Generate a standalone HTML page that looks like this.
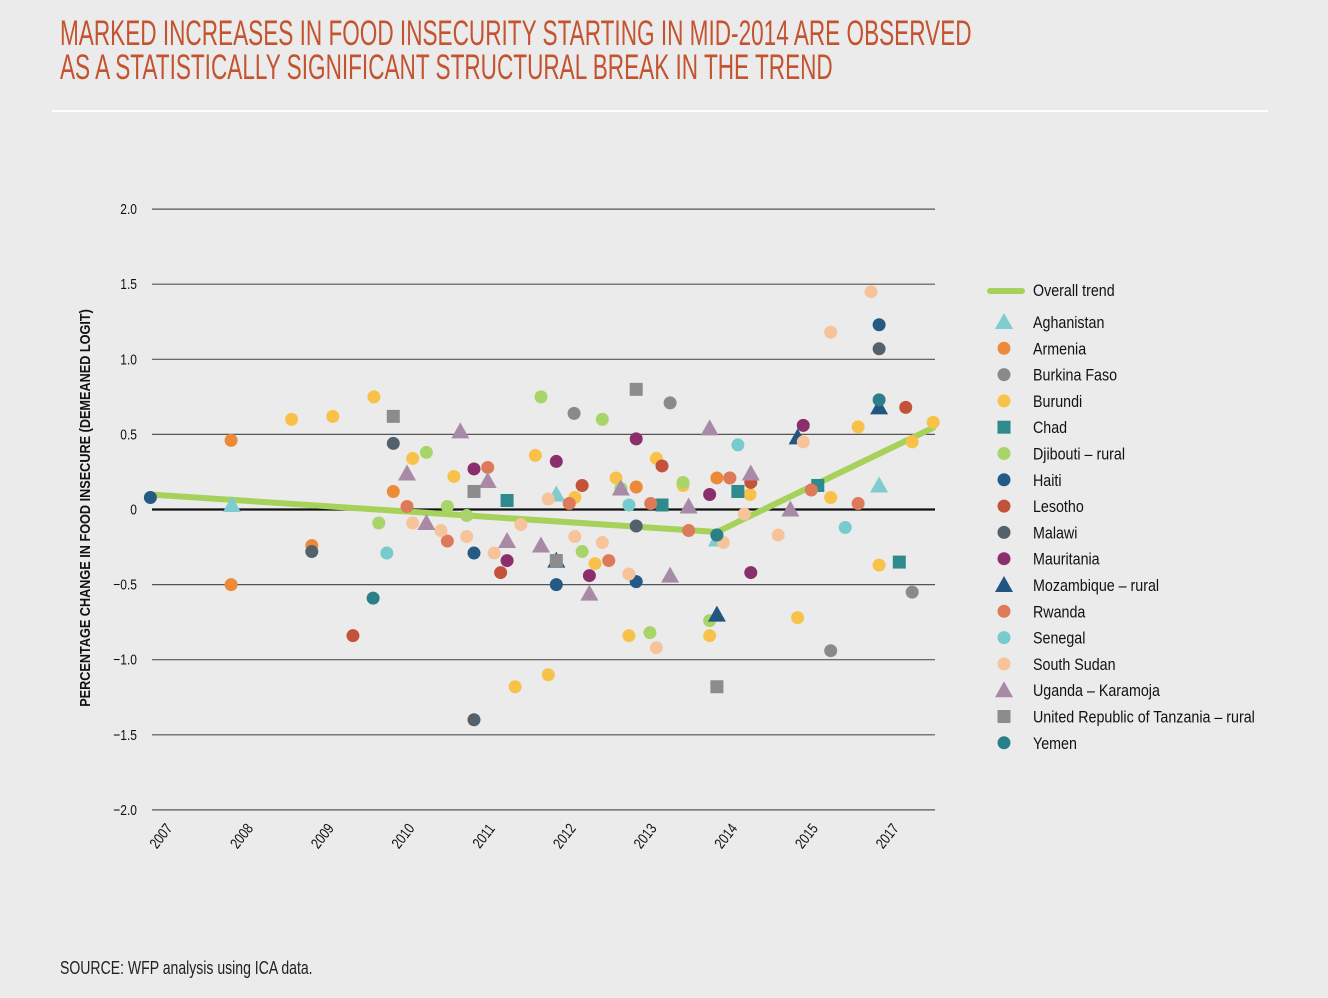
<!DOCTYPE html>
<html><head><meta charset="utf-8">
<style>
body{margin:0;background:#ebebeb;width:1328px;height:998px;overflow:hidden;font-family:"Liberation Sans",sans-serif;}
.t{position:absolute;left:60px;color:#c4532f;font-size:35px;white-space:nowrap;line-height:34px;transform:scaleX(0.645);transform-origin:0 0}
</style></head><body>
<div class="t" style="top:17px">MARKED INCREASES IN FOOD INSECURITY STARTING IN MID-2014 ARE OBSERVED<br>AS A STATISTICALLY SIGNIFICANT STRUCTURAL BREAK IN THE TREND</div>
<div style="position:absolute;left:52px;top:110px;width:1216px;height:2px;background:#fff"></div>
<svg id="c" width="1328" height="998" style="position:absolute;left:0;top:0"></svg>
<div style="position:absolute;left:60px;top:958px;font-size:18px;color:#222;white-space:nowrap;transform:scaleX(0.78);transform-origin:0 0">SOURCE: WFP analysis using ICA data.</div>
<script>
const yTicks=[2.0,1.5,1.0,0.5,0,-0.5,-1.0,-1.5,-2.0];
const yTickLabels=["2.0","1.5","1.0","0.5","0","−0.5","−1.0","−1.5","−2.0"];
const xTickLabels=["2007","2008","2009","2010","2011","2012","2013","2014","2015","2017"];
const trendT=[-0.02,7.0,9.7];
const trendV=[0.10,-0.15,0.55];
const seriesNames=["Aghanistan","Armenia","Burkina Faso","Burundi","Chad","Djibouti – rural","Haiti","Lesotho","Malawi","Mauritania","Mozambique – rural","Rwanda","Senegal","South Sudan","Uganda – Karamoja","United Republic of Tanzania – rural","Yemen"];
const seriesColors=["#7ecbd0","#ec8a3a","#8a8a8a","#f8c24a","#2e8a8c","#a8d46a","#245a83","#c4523a","#53616c","#8a2f6b","#225680","#dc7a5a","#76cccc","#f6c39a","#a98aa6","#8c8c8c","#2b7f88"];
const seriesShapes=["tri","c","c","c","sq","c","c","c","c","c","tri","c","c","c","tri","sq","c"];
const seriesT=[
[0.99,5.01,7.0,9.01],
[0.98,0.98,1.98,2.99,6.0,7.0,7.16],
[5.23,6.42,9.42,8.41],
[1.73,2.24,2.75,3.23,3.74,4.50,4.75,4.91,5.24,5.49,5.75,6.25,5.91,6.91,7.41,8.0,8.41,8.75,9.01,9.42,9.68,5.91,6.58],
[4.40,6.32,7.26,8.25,9.26],
[2.81,3.40,3.66,3.90,4.82,5.33,5.58,5.81,6.17,6.58,6.91],
[-0.02,3.99,5.01,6.0,7.0,9.01],
[2.49,4.32,5.33,6.32,7.42,9.34],
[1.98,2.99,3.99,6.0,9.01],
[3.99,4.40,5.01,5.42,6.0,6.91,7.42,8.07],
[5.01,7.0,8.0,9.01],
[3.16,3.66,4.16,5.17,5.66,6.18,6.65,7.16,8.17,8.75],
[2.91,5.91,7.26,8.59],
[3.23,3.58,3.90,4.24,4.57,4.91,5.24,5.58,5.91,6.25,7.08,7.34,7.76,8.07,8.41,8.91],
[3.16,3.40,3.82,4.16,4.40,4.82,5.42,5.81,6.42,6.65,6.91,7.42,7.91],
[2.99,3.99,5.01,6.0,7.0],
[2.74,7.0,9.01]];
const seriesV=[
[0.03,0.10,-0.20,0.16],
[0.46,-0.50,-0.24,0.12,0.15,0.21,0.21],
[0.64,0.71,-0.55,-0.94],
[0.60,0.62,0.75,0.34,0.22,-1.18,0.36,-1.10,0.08,-0.36,0.21,0.34,-0.43,-0.84,0.10,-0.72,0.08,0.55,-0.37,0.45,0.58,-0.84,0.16],
[0.06,0.03,0.12,0.16,-0.35],
[-0.09,0.38,0.02,-0.04,0.75,-0.28,0.60,0.14,-0.82,0.18,-0.74],
[0.08,-0.29,-0.50,-0.48,-0.17,1.23],
[-0.84,-0.42,0.16,0.29,0.18,0.68],
[-0.28,0.44,-1.40,-0.11,1.07],
[0.27,-0.34,0.32,-0.44,0.47,0.10,-0.42,0.56],
[-0.34,-0.70,0.48,0.68],
[0.02,-0.21,0.28,0.04,-0.34,0.04,-0.14,0.21,0.13,0.04],
[-0.29,0.03,0.43,-0.12],
[-0.09,-0.14,-0.18,-0.29,-0.10,0.07,-0.18,-0.22,-0.43,-0.92,-0.22,-0.03,-0.17,0.45,1.18,1.45],
[0.24,-0.09,0.52,0.19,-0.21,-0.24,-0.56,0.14,-0.44,0.02,0.54,0.24,0.0],
[0.62,0.12,-0.34,0.80,-1.18],
[-0.59,-0.17,0.73]];
const NS="http://www.w3.org/2000/svg";
const svg=document.getElementById('c');
const X0=152,X1=935,XU=80.7;
const x=t=>X0+t*XU;
const y=v=>509.5-v*150.2;
function mk(tag,attrs,parent){const e=document.createElementNS(NS,tag);for(const k in attrs)e.setAttribute(k,attrs[k]);(parent||svg).appendChild(e);return e;}
const sq=(px,k)=>`translate(${px},0) scale(${k},1) translate(${-px},0)`;
yTicks.forEach((v,i)=>{
  const l=mk('line',{x1:X0,x2:X1,y1:y(v),y2:y(v),stroke:v===0?'#111':'#555','stroke-width':v===0?2.2:1.2});
  
  
  const tx=mk('text',{x:137,y:y(v)+5,'text-anchor':'end','font-size':15,fill:'#111',transform:sq(137,0.8)});
  tx.textContent=yTickLabels[i];
  
  
});
xTickLabels.forEach((s,i)=>{
  const cx=x(i)+9,cy=836;
  const tx=mk('text',{x:cx,y:cy+5,'text-anchor':'middle','font-size':15,fill:'#111',transform:`rotate(-52 ${cx} ${cy}) ${sq(cx,0.8)}`});
  tx.textContent=s;
  
  
});
const yt=mk('text',{x:90,y:508,'text-anchor':'middle','font-size':14.5,'font-weight':'bold',fill:'#111',transform:'rotate(-90 90 508) '+sq(90,0.875)});
yt.textContent='PERCENTAGE CHANGE IN FOOD INSECURE (DEMEANED LOGIT)';


const tl=mk('polyline',{points:trendT.map((t,i)=>x(t)+','+y(trendV[i])).join(' '),fill:'none',stroke:'#a6d15a','stroke-width':6,'stroke-linejoin':'round'});


function marker(shape,px,py,col,parent){
  if(shape==='c')return mk('circle',{cx:px,cy:py,r:6.5,fill:col},parent);
  if(shape==='sq')return mk('rect',{x:px-6.5,y:py-6.5,width:13,height:13,fill:col},parent);
  return mk('polygon',{points:`${px},${py-9} ${px+9},${py+7} ${px-9},${py+7}`,fill:col},parent);
}
seriesNames.forEach((n,s)=>{
  const g=mk('g',{});
  
  
  seriesT[s].forEach((t,i)=>{
    const m=marker(seriesShapes[s],x(t),y(seriesV[s][i]),seriesColors[s],g);
    
    
  });
});
const lg=mk('g',{});


const ll=mk('line',{x1:990,x2:1022,y1:291,y2:291,stroke:'#a6d15a','stroke-width':6,'stroke-linecap':'round'},lg);


const lt=mk('text',{x:1033,y:296,'font-size':17,fill:'#111',transform:sq(1033,0.84)},lg);
lt.textContent='Overall trend';


seriesNames.forEach((n,s)=>{
  const py=322+s*26.3;
  const m=marker(seriesShapes[s],1004,py,seriesColors[s],lg);
  
  
  const t=mk('text',{x:1033,y:py+6,'font-size':17,fill:'#111',transform:sq(1033,0.84)},lg);
  t.textContent=n;
  
  
});
</script>
</body></html>
